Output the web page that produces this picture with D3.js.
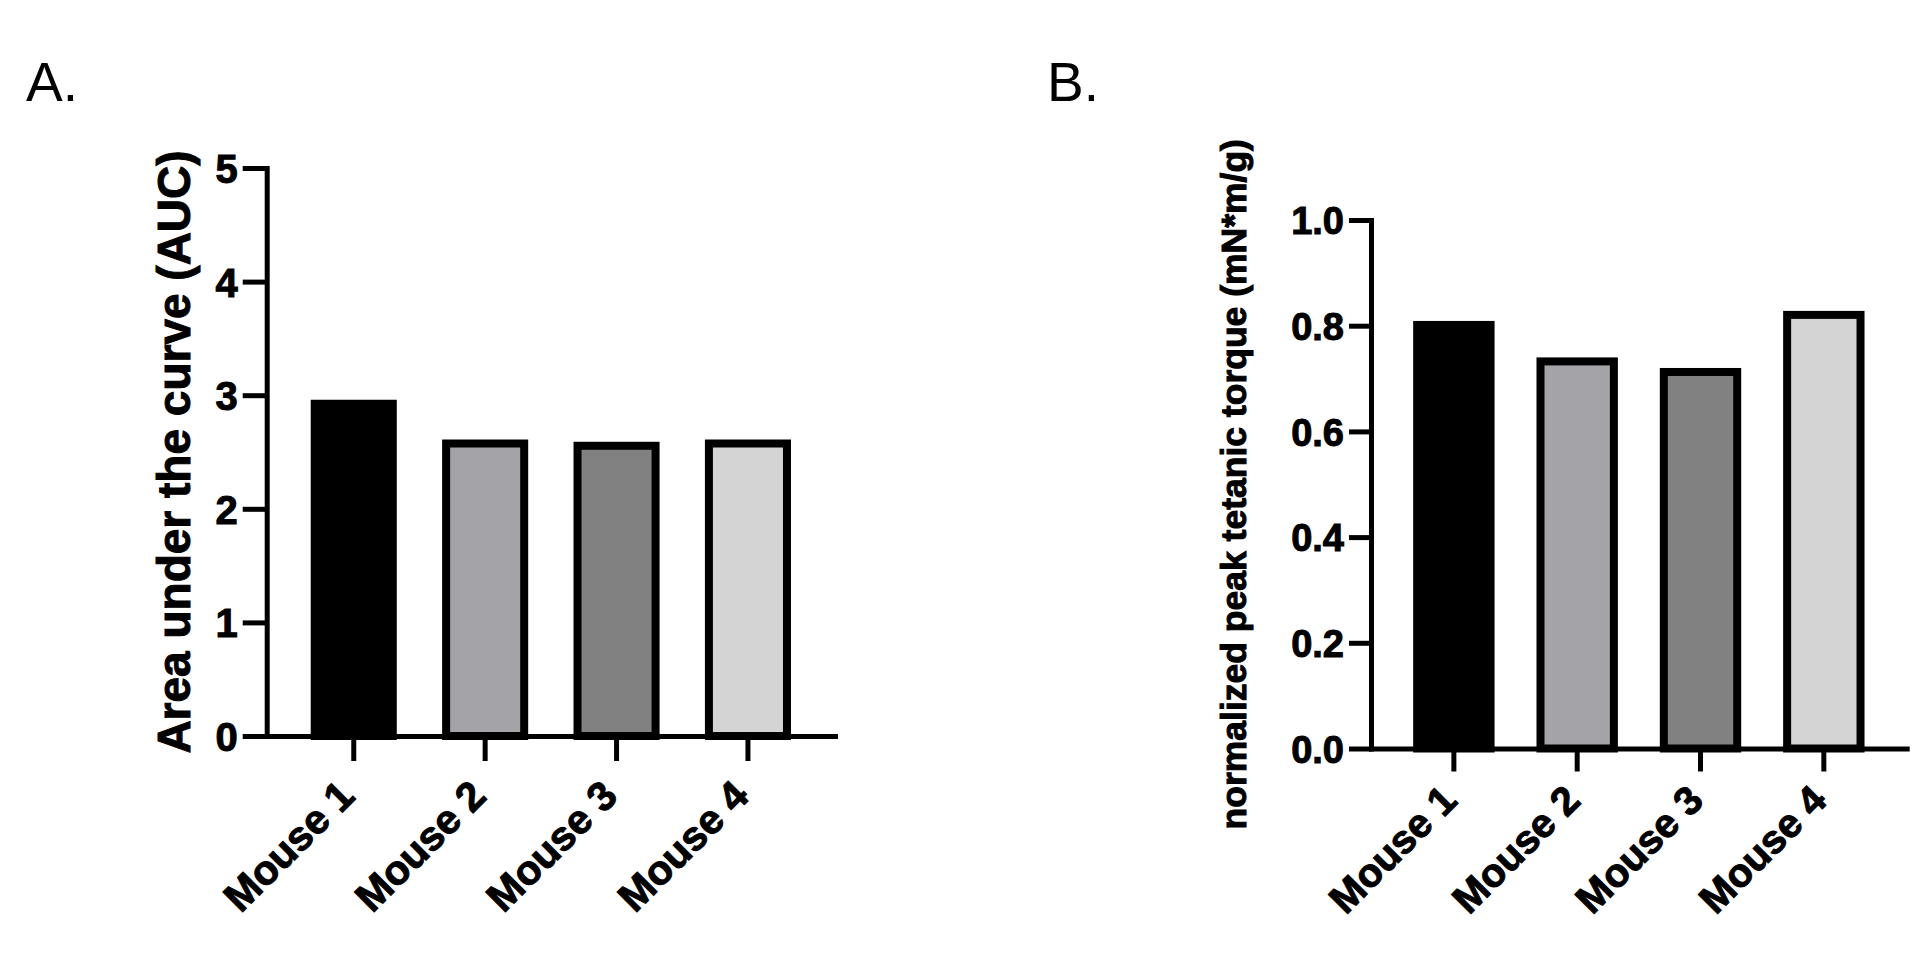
<!DOCTYPE html>
<html>
<head>
<meta charset="utf-8">
<script src="https://d3js.org/d3.v7.min.js"></script>
<style>
  body { margin: 0; background: #fff; }
  svg { display: block; font-family: "Liberation Sans", Arial, sans-serif; }
  .axis path, .axis line { stroke: #000; stroke-width: 5; }
  .axis path { stroke-linecap: square; }
  .axis text, .title { fill: #000; font-weight: bold; stroke: #000; stroke-width: 1; }
</style>
</head>
<body>
<div class="visHolder"></div>
<script>
"use strict"

var mice = ['Mouse 1', 'Mouse 2', 'Mouse 3', 'Mouse 4'];
var barColors = ['#000000', '#a4a3a8', '#818181', '#d4d4d4'];

// panel A
var aucValues = [2.96, 2.61, 2.59, 2.61];
var aucTicks = [0, 1, 2, 3, 4, 5];

// panel B
var torqueValues = [0.809, 0.740, 0.720, 0.828];
var torqueTicks = [0, 0.2, 0.4, 0.6, 0.8, 1.0];

var svg = d3.select('.visHolder')
  .append('svg')
  .attr('width', 1923)
  .attr('height', 969);

function drawPanel(opt) {
  var g = svg.append('g');

  var yScale = d3.scaleLinear()
    .domain(opt.yDomain)
    .range([opt.bottom, opt.top]);

  var xScale = d3.scaleBand()
    .domain(mice)
    .range([opt.left, opt.right])
    .paddingInner(opt.padInner)
    .paddingOuter(opt.padOuter);

  // bars: stroke drawn inside the outer box
  var sw = 8;
  g.selectAll('rect')
    .data(opt.values)
    .enter()
    .append('rect')
    .attr('x', (d, i) => xScale(mice[i]) + sw / 2)
    .attr('y', d => yScale(d) + sw / 2)
    .attr('width', xScale.bandwidth() - sw)
    .attr('height', d => yScale(0) - yScale(d) - sw / 2)
    .attr('fill', (d, i) => barColors[i])
    .attr('stroke', '#000')
    .attr('stroke-width', sw);

  var yAxis = d3.axisLeft(yScale)
    .tickValues(opt.ticks)
    .tickFormat(opt.format)
    .tickSize(opt.yTick)
    .tickSizeOuter(0)
    .tickPadding(opt.yPad);

  var yAxisGroup = g.append('g')
    .attr('class', 'axis')
    .attr('transform', 'translate(' + opt.left + ',0)')
    .call(yAxis);
  yAxisGroup.selectAll('text')
    .style('font-size', opt.tickFont + 'px')
    .attr('dy', '0.36em');

  var xAxis = d3.axisBottom(xScale)
    .tickSize(opt.xTick)
    .tickSizeOuter(0);

  var xAxisGroup = g.append('g')
    .attr('class', 'axis')
    .attr('transform', 'translate(0,' + opt.bottom + ')')
    .call(xAxis);
  xAxisGroup.selectAll('text')
    .style('font-size', opt.labelFont + 'px')
    .attr('text-anchor', 'end')
    .attr('x', 0)
    .attr('y', 0)
    .attr('dy', 0)
    .attr('transform', 'translate(' + opt.labelRight + ',' + opt.labelDown + ') rotate(-45)');

  g.append('text')
    .attr('class', 'title')
    .attr('transform', 'translate(' + opt.titleX + ',' + (opt.top + opt.bottom) / 2 + ') rotate(-90)')
    .attr('text-anchor', 'middle')
    .style('font-size', opt.titleFont + 'px')
    .text(opt.title);

  g.append('text')
    .attr('x', opt.panelX)
    .attr('y', 101)
    .style('font-size', '55px')
    .text(opt.panel);
}

drawPanel({
  panel: 'A.', panelX: 26,
  values: aucValues, ticks: aucTicks, yDomain: [0, 5], format: d3.format('d'),
  left: 266.7, right: 835, top: 168, bottom: 736,
  padInner: 0.345, padOuter: 0.335,
  yTick: 24, yPad: 5, xTick: 25, tickFont: 40, labelFont: 41, labelRight: 3, labelDown: 62,
  title: 'Area under the curve (AUC)', titleX: 190, titleFont: 46
});

drawPanel({
  panel: 'B.', panelX: 1047,
  values: torqueValues, ticks: torqueTicks, yDomain: [0, 1], format: d3.format('.1f'),
  left: 1371, right: 1906.7, top: 220, bottom: 748.5,
  padInner: 0.34, padOuter: 0.342,
  yTick: 22, yPad: 5, xTick: 23, tickFont: 38, labelFont: 40, labelRight: 5, labelDown: 54,
  title: 'normalized peak tetanic torque (mN*m/g)', titleX: 1246, titleFont: 35.5
});
</script>
</body>
</html>
